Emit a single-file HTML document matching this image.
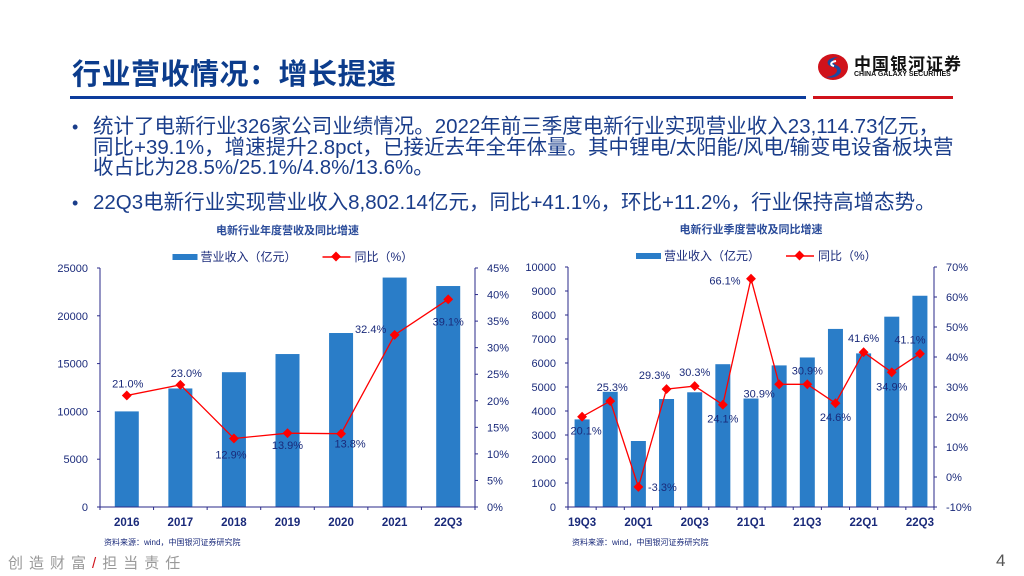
<!DOCTYPE html>
<html><head><meta charset="utf-8">
<style>
body{margin:0;width:1024px;height:576px;overflow:hidden;background:#fff;font-family:"Liberation Sans","Noto Sans CJK SC",sans-serif;position:relative}
.abs{position:absolute}
.title{left:72px;top:51px;font-size:29px;font-weight:bold;color:#0c3c8c;letter-spacing:0.5px}
.bul{left:72px;font-size:20.5px;color:#1a3d8a;line-height:20.5px}
.bul .dot{position:absolute;left:0;top:0;font-size:18px}
.bul .tx{position:absolute;left:21px;width:862px}
</style></head><body>
<div class="abs title">行业营收情况：增长提速</div>
<div class="abs" style="left:70px;top:96px;width:736px;height:3px;background:#0c3c9c"></div>
<div class="abs" style="left:813px;top:96px;width:140px;height:3px;background:#d0121b"></div>
<div class="abs" style="left:816px;top:50px;width:150px;height:36px">
 <svg width="34" height="30" style="position:absolute;left:0;top:2px"><ellipse cx="17" cy="15" rx="15" ry="13" fill="#d0121b"/><path d="M22 5 C8 6 10 14 17 15 C24 16 22 24 10 25 C20 28 30 20 22 14 C16 11 14 8 22 5Z" fill="#1a4aa0"/><path d="M20 9 C14 10 14 13 18 14" stroke="#fff" stroke-width="2" fill="none"/></svg>
 <div style="position:absolute;left:38px;top:0;font-size:17px;font-weight:bold;color:#111;letter-spacing:1px">中国银河证券</div>
 <div style="position:absolute;left:38px;top:21px;font-size:7px;color:#111;font-weight:bold">CHINA GALAXY SECURITIES</div>
</div>
<div class="abs bul" style="top:117px"><span class="dot">•</span><span class="tx">统计了电新行业326家公司业绩情况。2022年前三季度电新行业实现营业收入23,114.73亿元，同比+39.1%，增速提升2.8pct，已接近去年全年体量。其中锂电/太阳能/风电/输变电设备板块营收占比为28.5%/25.1%/4.8%/13.6%。</span></div>
<div class="abs bul" style="top:193px"><span class="dot">•</span><span class="tx">22Q3电新行业实现营业收入8,802.14亿元，同比+41.1%，环比+11.2%，行业保持高增态势。</span></div>
<div class="abs" style="left:8px;top:552px;font-size:15px;color:#999;letter-spacing:6px">创造财富<span style="color:#d0121b">/</span>担当责任</div>
<div class="abs" style="left:996px;top:551px;font-size:17px;color:#555">4</div>
<svg class="abs" style="left:0;top:0" width="1024" height="576" id="charts"></svg>
<script>
const yearCats=["2016","2017","2018","2019","2020","2021","22Q3"];
const yearRev=[10000,12400,14100,16000,18200,24000,23115];
const yearYoy=[21.0,23.0,12.9,13.9,13.8,32.4,39.1];
const qCats=["19Q3","19Q4","20Q1","20Q2","20Q3","20Q4","21Q1","21Q2","21Q3","21Q4","22Q1","22Q2","22Q3"];
const qRev=[3650,4800,2750,4500,4780,5950,4520,5900,6230,7420,6400,7930,8802];
const qYoy=[20.1,25.3,-3.3,29.3,30.3,24.1,66.1,30.9,30.9,24.6,41.6,34.9,41.1];
const yLeftTicksA=[0,5000,10000,15000,20000,25000];
const yRightTicksA=[0,5,10,15,20,25,30,35,40,45];
const yLeftTicksB=[0,1000,2000,3000,4000,5000,6000,7000,8000,9000,10000];
const yRightTicksB=[-10,0,10,20,30,40,50,60,70];
const qTickLabels=["19Q3","","20Q1","","20Q3","","21Q1","","21Q3","","22Q1","","22Q3"];
const svg=document.getElementById('charts');const NS="http://www.w3.org/2000/svg";
function mk(t,a,txt){const e=document.createElementNS(NS,t);for(const k in a)e.setAttribute(k,a[k]);if(txt!==undefined)e.textContent=txt;svg.appendChild(e);return e;}
function chart(o){
 const n=o.cats.length,cw=(o.x1-o.x0)/n;
 const yl=v=>o.yb-(v-o.lmin)/(o.lmax-o.lmin)*(o.yb-o.yt);
 const yr=v=>o.yb-(v-o.rmin)/(o.rmax-o.rmin)*(o.yb-o.yt);
 const cx=i=>o.x0+cw*(i+0.5);
 let t=mk('text',{x:(o.x0+o.x1)/2,y:o.yt-34,'text-anchor':'middle','font-size':11,'font-weight':'bold',fill:'#2b4c9a'},o.title);
 
 const lg=(o.x0+o.x1)/2-115;
 let r=mk('rect',{x:lg,y:o.yt-14,width:25,height:6,fill:'#2a7dc8'});
 mk('text',{x:lg+28,y:o.yt-7,'font-size':12,fill:'#1a2a7a'},'营业收入（亿元）');
 let l=mk('line',{x1:lg+150,x2:lg+178,y1:o.yt-11,y2:o.yt-11,stroke:'#f00','stroke-width':1.5});
 mk('rect',{x:lg+160,y:o.yt-15,width:7,height:7,fill:'#f00',transform:`rotate(45 ${lg+163.5} ${o.yt-11.5})`});
 mk('text',{x:lg+182,y:o.yt-7,'font-size':12,fill:'#1a2a7a'},'同比（%）');
 o.lt.forEach(v=>{let e=mk('text',{x:o.x0-12,y:yl(v)+4,'text-anchor':'end','font-size':11,fill:'#1a2a7a'},v);
  mk('line',{x1:o.x0-3,x2:o.x0,y1:yl(v),y2:yl(v),stroke:'#2a2a8a'});});
 o.rt.forEach(v=>{let e=mk('text',{x:o.x1+12,y:yr(v)+4,'font-size':11,fill:'#1a2a7a'},v+'%');
  mk('line',{x1:o.x1,x2:o.x1+3,y1:yr(v),y2:yr(v),stroke:'#2a2a8a'});});
 o.rev.forEach((v,i)=>{let b=mk('rect',{x:cx(i)-o.bw/2,y:yl(v),width:o.bw,height:o.yb-yl(v),fill:'#2a7dc8'});
  });
 mk('line',{x1:o.x0,x2:o.x0,y1:o.yt,y2:o.yb,stroke:'#2a2a8a'});
 mk('line',{x1:o.x1,x2:o.x1,y1:o.yt,y2:o.yb,stroke:'#2a2a8a'});
 mk('line',{x1:o.x0,x2:o.x1,y1:o.yb,y2:o.yb,stroke:'#2a2a8a'});
 for(let i=0;i<=n;i++)mk('line',{x1:o.x0+cw*i,x2:o.x0+cw*i,y1:o.yb,y2:o.yb+3,stroke:'#2a2a8a'});
 o.xl.forEach((s,i)=>{if(!s)return;let e=mk('text',{x:cx(i),y:o.yb+19,'text-anchor':'middle','font-size':11.5,'font-weight':'bold',fill:'#1a2a7a'},s);});
 let p=mk('polyline',{points:o.yoy.map((v,i)=>cx(i)+','+yr(v)).join(' '),fill:'none',stroke:'#f00','stroke-width':1.3});
 
 o.yoy.forEach((v,i)=>{const x=cx(i),y=yr(v);
  let m=mk('rect',{x:x-3.5,y:y-3.5,width:7,height:7,fill:'#f00',transform:`rotate(45 ${x} ${y})`});
  
  let lb=mk('text',{x:x+o.off[i][0],y:y+o.off[i][1],'text-anchor':'middle','font-size':11,fill:'#1a2a7a'},v.toFixed(1)+'%');
  });
 let s=mk('text',{x:o.x0+4,y:o.yb+38,'font-size':8,fill:'#1a2a7a'},'资料来源：wind，中国银河证券研究院');
 
}
chart({id:'annual-chart',title:'电新行业年度营收及同比增速',cats:yearCats,rev:yearRev,yoy:yearYoy,xl:yearCats,
 x0:100,x1:475,yt:268,yb:507,lmin:0,lmax:25000,rmin:0,rmax:45,lt:yLeftTicksA,rt:yRightTicksA,bw:24,
 off:[[1,-8],[6,-8],[-3,20],[0,16],[9,14],[-24,-2],[0,26]]});
chart({id:'quarterly-chart',title:'电新行业季度营收及同比增速',cats:qCats,rev:qRev,yoy:qYoy,xl:qTickLabels,
 x0:568,x1:934,yt:267,yb:507,lmin:0,lmax:10000,rmin:-10,rmax:70,lt:yLeftTicksB,rt:yRightTicksB,bw:15,
 off:[[4,18],[2,-10],[24,4],[-12,-10],[0,-10],[0,18],[-26,6],[-20,13],[0,-10],[0,18],[0,-10],[0,18],[-10,-10]]});
</script>
</body></html>
